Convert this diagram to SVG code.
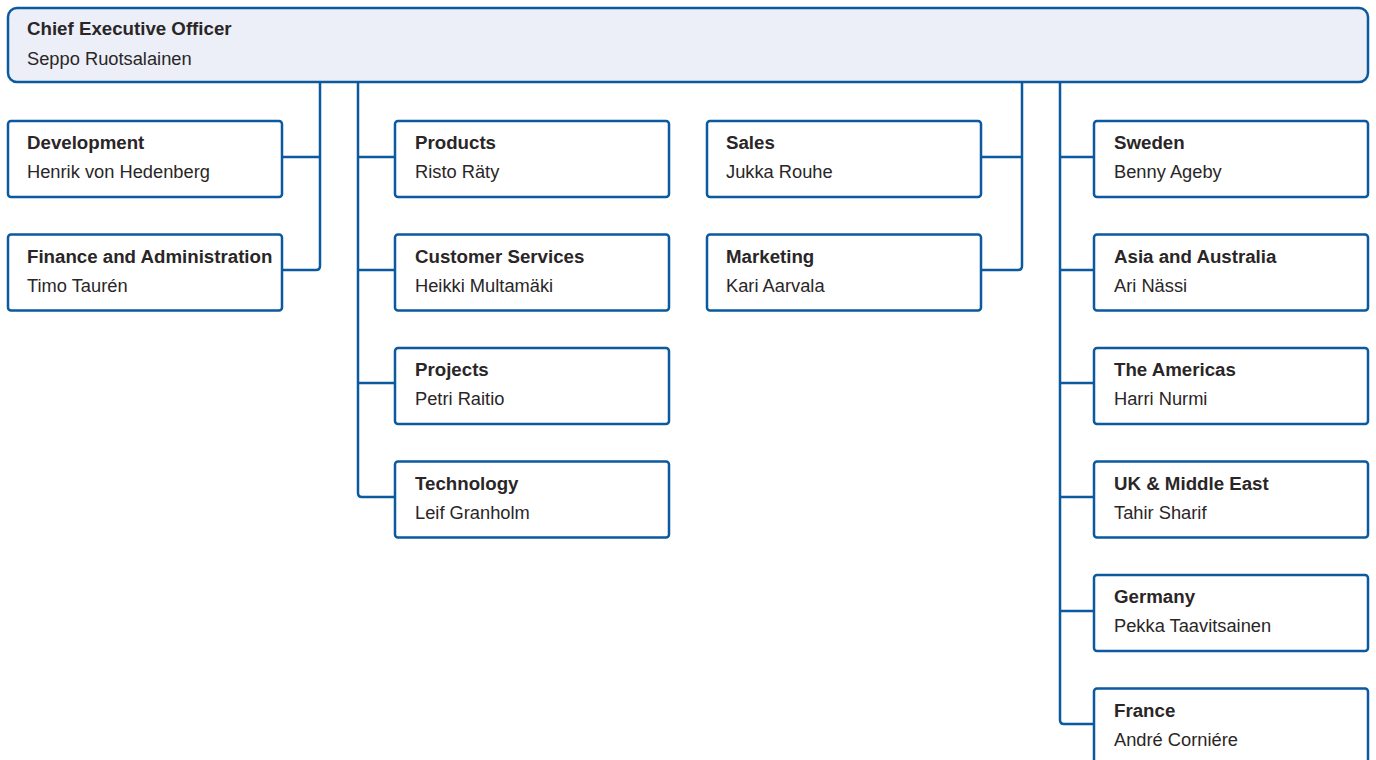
<svg xmlns="http://www.w3.org/2000/svg" width="1376" height="760" viewBox="0 0 1376 760">
  <style>
    .box { fill: #ffffff; stroke: #0b5aa0; stroke-width: 2.5; }
    .top { fill: #eceff7; stroke: #0b5aa0; stroke-width: 2.5; }
    .wire { fill: none; stroke: #0b5aa0; stroke-width: 2.5; stroke-linejoin: round; }
    .title { font-family: "Liberation Sans", Arial, sans-serif; font-size: 18.7px; font-weight: bold; fill: #2a2627; }
    .name { font-family: "Liberation Sans", Arial, sans-serif; font-size: 18.3px; fill: #2a2627; }
  </style>
  <rect width="1376" height="760" fill="#ffffff"/>

  <!-- connectors -->
  <g id="connectors">
    <path class="wire" d="M320 82 V266 Q320 270 316 270 H282 M320 157 H282"/>
    <path class="wire" d="M358 82 V493 Q358 497 362 497 H395 M358 157 H395 M358 270 H395 M358 383 H395"/>
    <path class="wire" d="M1022 82 V266 Q1022 270 1018 270 H981 M1022 157 H981"/>
    <path class="wire" d="M1060 82 V720 Q1060 724 1064 724 H1094 M1060 157 H1094 M1060 270 H1094 M1060 383 H1094 M1060 497 H1094 M1060 611 H1094"/>
  </g>

  <!-- chief executive -->
  <g id="ceo">
    <rect class="top" x="8" y="8" width="1360" height="74" rx="9"/>
    <text class="title" x="27" y="35">Chief Executive Officer</text>
    <text class="name" x="27" y="65">Seppo Ruotsalainen</text>
  </g>

  <!-- column 1 -->
  <g id="development">
    <rect class="box" x="8" y="121" width="274" height="76" rx="3"/>
    <text class="title" x="27" y="149">Development</text>
    <text class="name" x="27" y="178">Henrik von Hedenberg</text>
  </g>
  <g id="finance">
    <rect class="box" x="8" y="234.5" width="274" height="76" rx="3"/>
    <text class="title" x="27" y="262.5">Finance and Administration</text>
    <text class="name" x="27" y="291.5">Timo Taurén</text>
  </g>

  <!-- column 2 -->
  <g id="products">
    <rect class="box" x="395" y="121" width="274" height="76" rx="3"/>
    <text class="title" x="415" y="149">Products</text>
    <text class="name" x="415" y="178">Risto Räty</text>
  </g>
  <g id="customer-services">
    <rect class="box" x="395" y="234.5" width="274" height="76" rx="3"/>
    <text class="title" x="415" y="262.5">Customer Services</text>
    <text class="name" x="415" y="291.5">Heikki Multamäki</text>
  </g>
  <g id="projects">
    <rect class="box" x="395" y="348" width="274" height="76" rx="3"/>
    <text class="title" x="415" y="376">Projects</text>
    <text class="name" x="415" y="405">Petri Raitio</text>
  </g>
  <g id="technology">
    <rect class="box" x="395" y="461.5" width="274" height="76" rx="3"/>
    <text class="title" x="415" y="489.5">Technology</text>
    <text class="name" x="415" y="518.5">Leif Granholm</text>
  </g>

  <!-- column 3 -->
  <g id="sales">
    <rect class="box" x="707" y="121" width="274" height="76" rx="3"/>
    <text class="title" x="726" y="149">Sales</text>
    <text class="name" x="726" y="178">Jukka Rouhe</text>
  </g>
  <g id="marketing">
    <rect class="box" x="707" y="234.5" width="274" height="76" rx="3"/>
    <text class="title" x="726" y="262.5">Marketing</text>
    <text class="name" x="726" y="291.5">Kari Aarvala</text>
  </g>

  <!-- column 4 -->
  <g id="sweden">
    <rect class="box" x="1094" y="121" width="274" height="76" rx="3"/>
    <text class="title" x="1114" y="149">Sweden</text>
    <text class="name" x="1114" y="178">Benny Ageby</text>
  </g>
  <g id="asia-australia">
    <rect class="box" x="1094" y="234.5" width="274" height="76" rx="3"/>
    <text class="title" x="1114" y="262.5">Asia and Australia</text>
    <text class="name" x="1114" y="291.5">Ari Nässi</text>
  </g>
  <g id="americas">
    <rect class="box" x="1094" y="348" width="274" height="76" rx="3"/>
    <text class="title" x="1114" y="376">The Americas</text>
    <text class="name" x="1114" y="405">Harri Nurmi</text>
  </g>
  <g id="uk-middle-east">
    <rect class="box" x="1094" y="461.5" width="274" height="76" rx="3"/>
    <text class="title" x="1114" y="489.5">UK &amp; Middle East</text>
    <text class="name" x="1114" y="518.5">Tahir Sharif</text>
  </g>
  <g id="germany">
    <rect class="box" x="1094" y="575" width="274" height="76" rx="3"/>
    <text class="title" x="1114" y="603">Germany</text>
    <text class="name" x="1114" y="632">Pekka Taavitsainen</text>
  </g>
  <g id="france">
    <rect class="box" x="1094" y="688.5" width="274" height="76" rx="3"/>
    <text class="title" x="1114" y="716.5">France</text>
    <text class="name" x="1114" y="745.5">André Corniére</text>
  </g>
</svg>
